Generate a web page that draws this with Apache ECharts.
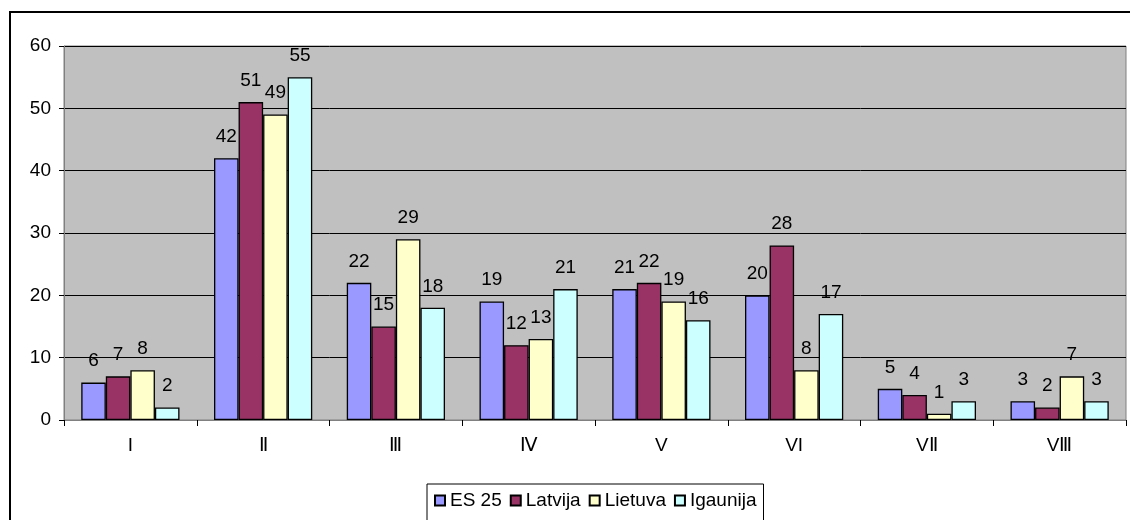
<!DOCTYPE html>
<html><head><meta charset="utf-8">
<script src="https://cdn.jsdelivr.net/npm/echarts@6/dist/echarts.min.js"></script>
<style>
html,body{margin:0;padding:0;background:#fff;overflow:hidden;}
#frame{position:absolute;left:9px;top:11px;width:1140px;height:540px;border:2px solid #000;box-sizing:border-box;}
#c{position:absolute;left:0;top:0;width:1130px;height:520px;}
</style></head><body>
<div id="frame"></div>
<div id="c"></div>
<script>
const categories = ['I','Ⅱ','Ⅲ','Ⅳ','V','VI','VⅡ','VⅢ'];
const seriesNames = ['ES 25','Latvija','Lietuva','Igaunija'];
const es25 = [6,42,22,19,21,20,5,3];
const latvija = [7,51,15,12,22,28,4,2];
const lietuva = [8,49,29,13,19,8,1,7];
const igaunija = [2,55,18,21,16,17,3,3];
const colors = ['#9999FF','#993366','#FFFFCC','#CCFFFF'];
const values = [es25, latvija, lietuva, igaunija];

const chart = echarts.init(document.getElementById('c'));
const font = 'Liberation Sans, Arial, sans-serif';
chart.setOption({
  animation:false,
  textStyle:{fontFamily:font},
  grid:{left:64,right:4,top:46,bottom:100,show:true,backgroundColor:'#C0C0C0',borderColor:'#808080',borderWidth:1},
  legend:{
    top:484,left:427,
    data:seriesNames,
    itemWidth:10,itemHeight:10,itemGap:8,
    icon:'rect',
    borderColor:'#000',borderWidth:1,padding:[7,7,12,7],
    textStyle:{fontSize:19,color:'#000',fontFamily:font,padding:[0,0,0,0]}
  },
  xAxis:{
    type:'category',data:categories,
    axisLine:{lineStyle:{color:'#808080',width:1}},
    axisTick:{show:true,length:6,lineStyle:{color:'#000'}},
    axisLabel:{color:'#000',fontSize:19,margin:16,fontFamily:font}
  },
  yAxis:{
    type:'value',min:0,max:60,interval:10,
    axisLine:{show:true,lineStyle:{color:'#808080'}},
    axisTick:{show:true,length:5,lineStyle:{color:'#000'}},
    axisLabel:{color:'#000',fontSize:19,margin:13,fontFamily:font},
    splitLine:{lineStyle:{color:'#000',width:1}}
  },
  series: seriesNames.map((n,i)=>({
    name:n,type:'bar',data:values[i],
    barGap:'0%',barCategoryGap:'26%',
    itemStyle:{color:colors[i],borderColor:'#000',borderWidth:1.3},
    label:{show:true,position:'top',distance:12,color:'#000',fontSize:19,fontFamily:font}
  }))
});
</script>
</body></html>
